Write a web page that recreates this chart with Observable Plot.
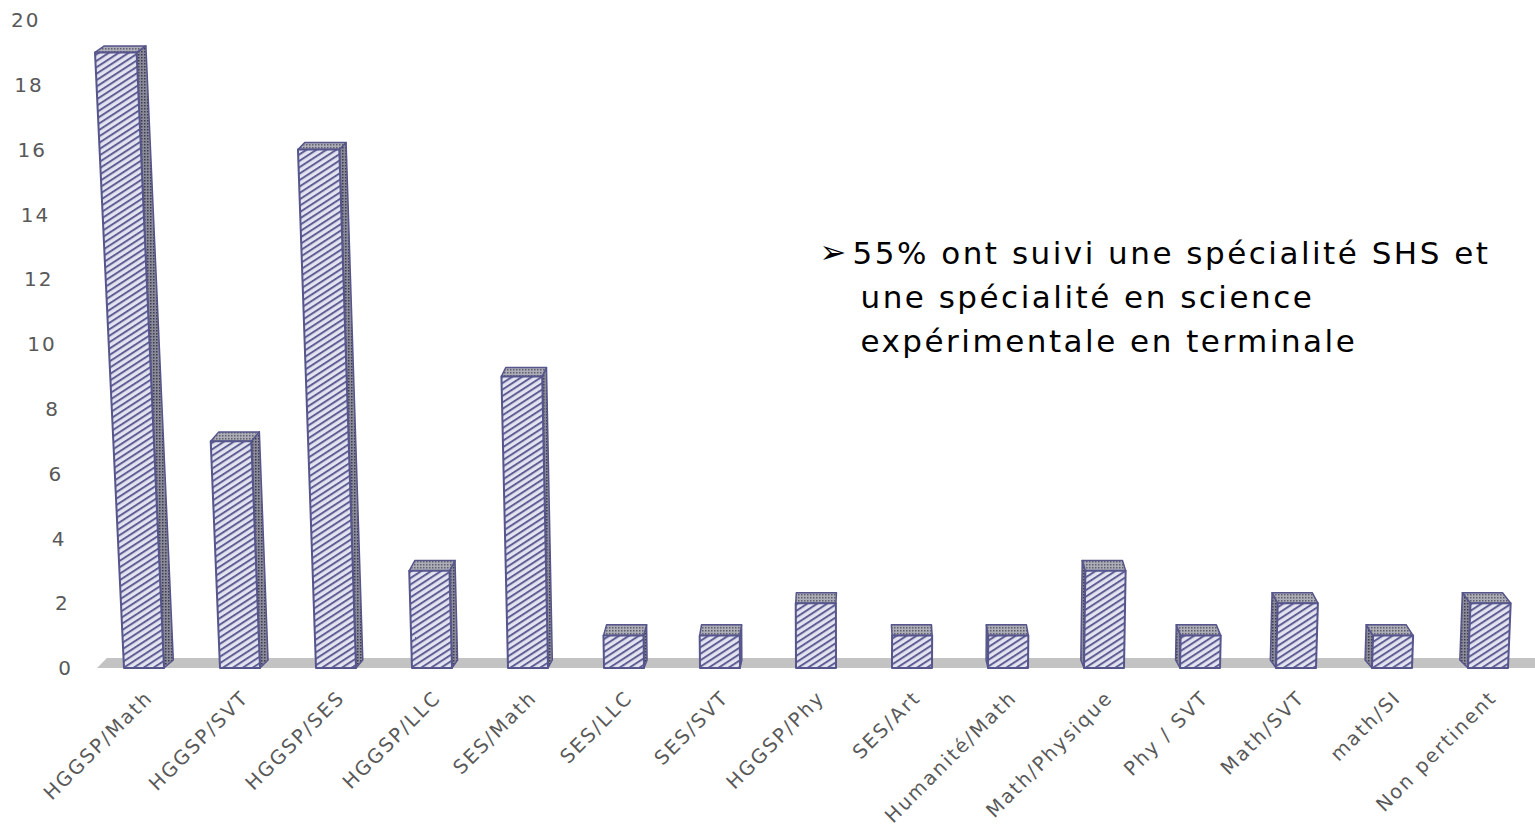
<!DOCTYPE html>
<html>
<head>
<meta charset="utf-8">
<script src="https://cdn.jsdelivr.net/npm/d3@7"></script>
<script src="https://cdn.jsdelivr.net/npm/@observablehq/plot@0.6"></script>
<style>
html, body { margin: 0; padding: 0; background: #ffffff; }
#chart svg { display: block; }
</style>
</head>
<body>
<div id="chart"></div>
<script>
// ---- data ----
const categories = ["HGGSP/Math", "HGGSP/SVT", "HGGSP/SES", "HGGSP/LLC", "SES/Math", "SES/LLC", "SES/SVT", "HGGSP/Phy", "SES/Art", "Humanité/Math", "Math/Physique", "Phy / SVT", "Math/SVT", "math/SI", "Non pertinent"];
const counts = [19, 7, 16, 3, 9, 1, 1, 2, 1, 1, 3, 1, 2, 1, 2];
const yTicks = [0, 2, 4, 6, 8, 10, 12, 14, 16, 18, 20];
const noteBullet = "➢";
const noteFirst = "55% ont suivi une spécialité SHS et";
const noteRest = ["une spécialité en science", "expérimentale en terminale"];

const data = categories.map((c, i) => ({cat: c, n: counts[i]}));

// ---- 3D look parameters ----
const VP = 860;      // horizontal vanishing point
const K = 6.4e-5;    // lean of verticals
const D = 0.013;     // depth offset factor
const FLOOR_DEPTH = 10;
const OUTLINE = "#56558c";

const pts = a => a.map(p => p[0].toFixed(2) + "," + p[1].toFixed(2)).join(" ");

function defsMark() {
  return () => {
    const g = d3.create("svg:g");
    const defs = g.append("defs");
    const h = defs.append("pattern").attr("id", "hatch").attr("patternUnits", "userSpaceOnUse")
      .attr("width", 6).attr("height", 5.4).attr("patternTransform", "rotate(-33)");
    h.append("rect").attr("width", 6).attr("height", 5.4).attr("fill", "#e4e4f1");
    h.append("rect").attr("y", 0).attr("width", 6).attr("height", 2).attr("fill", "#5f5e94");
    const s = defs.append("pattern").attr("id", "sideDots").attr("patternUnits", "userSpaceOnUse")
      .attr("width", 3).attr("height", 3);
    s.append("rect").attr("width", 3).attr("height", 3).attr("fill", "#8a8a98");
    s.append("rect").attr("width", 1.5).attr("height", 1.5).attr("fill", "#3c3c50");
    const t = defs.append("pattern").attr("id", "topDots").attr("patternUnits", "userSpaceOnUse")
      .attr("width", 3).attr("height", 3);
    t.append("rect").attr("width", 3).attr("height", 3).attr("fill", "#adadb8");
    t.append("rect").attr("width", 1.5).attr("height", 1.5).attr("fill", "#5f5f6e");
    return g.node();
  };
}

function floorMark() {
  return (index, scales, values, dims) => {
    const y0 = scales.y(0);
    const xL = scales.x(categories[0]) - 27;
    const xR = dims.width + 20;
    const dx = (VP - xL) * D;
    const g = d3.create("svg:g");
    g.append("polygon")
      .attr("points", pts([[xL, y0], [xR, y0], [xR + dx, y0 - FLOOR_DEPTH], [xL + dx, y0 - FLOOR_DEPTH]]))
      .attr("fill", "#c3c3c3");
    return g.node();
  };
}

function bar3d(index, scales, values, dims) {
  const g = d3.create("svg:g");
  let bw = 40;
  if (scales.x && typeof scales.x.bandwidth === "function") bw = scales.x.bandwidth();
  else if (scales.scales && scales.scales.x && scales.scales.x.bandwidth) bw = scales.scales.x.bandwidth;
  const Y0 = scales.y(0);
  const sh = (x, yp) => (x - VP) * K * (Y0 - yp);
  for (const i of index) {
    const xs = scales.x(data[i].cat);
    const v = data[i].n;
    const yt = scales.y(v);
    const cx = xs + bw / 2;
    const ddx = (VP - cx) * D;
    const dyTop = 11 - 0.24 * v;
    const dyBot = 8;
    const BL = [xs, Y0], BR = [xs + bw, Y0];
    const TL = [xs + sh(xs, yt), yt], TR = [xs + bw + sh(xs + bw, yt), yt];
    const off = (p, dy) => [p[0] + ddx, p[1] - dy];
    const bar = g.append("g")
      .attr("stroke", OUTLINE).attr("stroke-width", 2).attr("stroke-linejoin", "round");
    if (Math.abs(ddx) > 0.8) {
      const [B, T] = ddx > 0 ? [BR, TR] : [BL, TL];
      bar.append("polygon").attr("points", pts([B, T, off(T, dyTop), off(B, dyBot)]))
        .attr("fill", "url(#sideDots)").attr("stroke-width", 1.5);
    }
    bar.append("polygon").attr("points", pts([TL, TR, off(TR, dyTop), off(TL, dyTop)]))
      .attr("fill", "url(#topDots)").attr("stroke-width", 1.5);
    bar.append("polygon").attr("points", pts([BL, BR, TR, TL]))
      .attr("fill", "url(#hatch)");
  }
  return g.node();
}

function yTickMark() {
  return (index, scales) => {
    const Y0 = scales.y(0);
    const AX = 73;
    const g = d3.create("svg:g")
      .attr("fill", "#595959").attr("font-size", 20).attr("text-anchor", "end");
    for (const t of yTicks) {
      const yp = scales.y(t);
      const x = AX + (AX - VP) * K * (Y0 - yp);
      g.append("text").attr("x", x.toFixed(2)).attr("y", yp.toFixed(2)).attr("dy", "0.36em").text(String(t));
    }
    return g.node();
  };
}

const plot = Plot.plot({
  width: 1535,
  height: 829,
  marginTop: 20,
  marginBottom: 161,
  marginLeft: 0,
  marginRight: 0,
  style: {fontFamily: "'DejaVu Sans', sans-serif", letterSpacing: "2px", background: "#ffffff"},
  x: {domain: categories, range: [91, 1541], paddingInner: 0.585, paddingOuter: 0.3, axis: null},
  y: {domain: [0, 20], range: [668, 20], axis: null},
  marks: [
    defsMark(),
    floorMark(),
    Plot.barY(data, {x: "cat", y: "n", render: bar3d}),
    yTickMark(),
    Plot.text(data, {
      x: "cat", y: () => 0, text: "cat", rotate: -45, textAnchor: "end",
      dx: 5, dy: 26, fontSize: 19.5, fill: "#595959"
    }),
    Plot.text([noteBullet], {
      frameAnchor: "top-left", dx: 819, dy: 232, fontSize: 32, fill: "#000000",
      textAnchor: "start", lineAnchor: "middle"
    }),
    Plot.text([noteFirst], {
      frameAnchor: "top-left", dx: 852, dy: 221, fontSize: 31, fill: "#000000",
      textAnchor: "start", lineAnchor: "top"
    }),
    Plot.text([noteRest.join("\n")], {
      frameAnchor: "top-left", dx: 860, dy: 256, fontSize: 31, lineHeight: 1.43,
      fill: "#000000", textAnchor: "start", lineAnchor: "top"
    })
  ]
});

plot.querySelectorAll("text").forEach(t => {
  if (t.getAttribute("font-size") === "31" || (t.closest("g") && t.closest("g").getAttribute("font-size") === "31")) {
    t.style.letterSpacing = "2.5px";
  }
});

document.getElementById("chart").appendChild(plot);
</script>
</body>
</html>
